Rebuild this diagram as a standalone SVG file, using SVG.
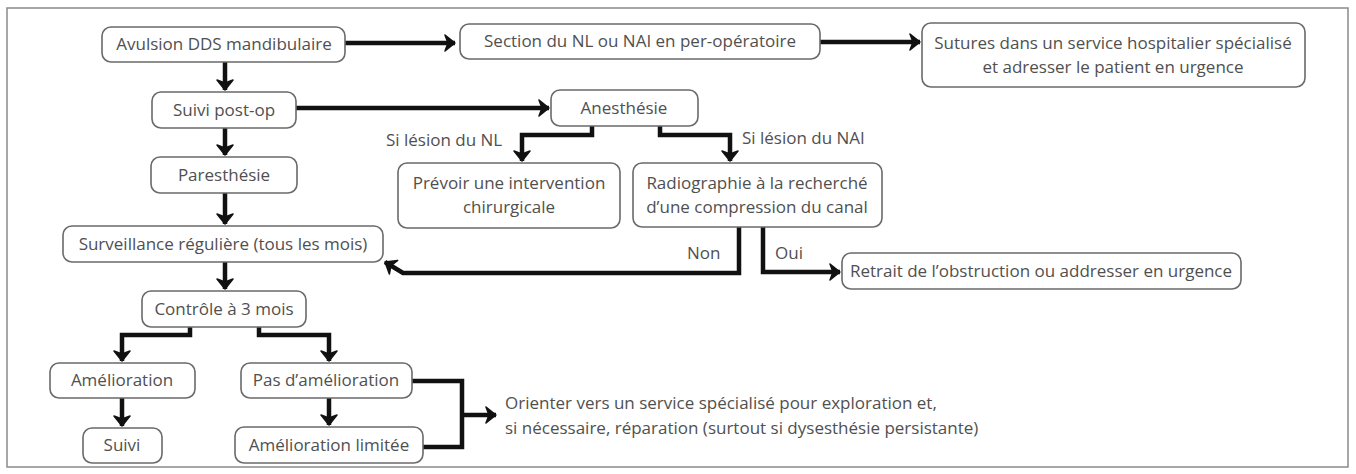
<svg xmlns="http://www.w3.org/2000/svg" width="1356" height="474" viewBox="0 0 1356 474">
<defs>
<style>
.box{fill:#fff;stroke:#6a6a6a;stroke-width:1.6}
.t{font-family:"Open Sans","Noto Sans","Liberation Sans",sans-serif;font-size:17px;fill:#505050;text-anchor:middle}
.l{font-family:"Open Sans","Noto Sans","Liberation Sans",sans-serif;font-size:17px;fill:#505050}
.c{fill:none;stroke:#111;stroke-width:4.5;stroke-linejoin:miter;marker-end:url(#ah)}
.cn{fill:none;stroke:#111;stroke-width:4.5;stroke-linejoin:miter}
</style>
<marker id="ah" markerUnits="userSpaceOnUse" markerWidth="20" markerHeight="20" refX="12" refY="10" orient="auto" viewBox="0 0 20 20">
<path d="M2,2 L12,10 L2,18 L5,10 Z" fill="#111" stroke="#111" stroke-width="1.5" stroke-linejoin="round"/>
</marker>
</defs>
<rect x="0" y="0" width="1356" height="474" fill="#fff"/>
<rect x="7" y="8" width="1341" height="459" fill="#fff" stroke="#8a8a8a" stroke-width="1.5"/>

<g id="connectors">
<path class="c" d="M345,43 H455"/>
<path class="c" d="M820,42 H920"/>
<path class="c" d="M225,62 V90"/>
<path class="c" d="M296,108 H549"/>
<path class="c" d="M225,128 V155"/>
<path class="c" d="M225,193 V224"/>
<path class="c" d="M592,126 V135 H522 V161"/>
<path class="c" d="M660,126 V135 H730 V161"/>
<path class="c" d="M739,227 V273 H403 L385,262"/>
<path class="c" d="M763,227 V272 H840"/>
<path class="c" d="M225,262 V289"/>
<path class="c" d="M190,327 V335 H122 V361"/>
<path class="c" d="M259,327 V335 H329 V361"/>
<path class="c" d="M122,398 V426"/>
<path class="c" d="M329,397 V425"/>
<path class="cn" d="M412,381 H462 V447 H423"/>
<path class="c" d="M462,415 H496"/>
</g>

<g id="n1"><rect class="box" x="102" y="27" width="243" height="35" rx="9"/><text class="t" x="224" y="50">Avulsion DDS mandibulaire</text></g>
<g id="n2"><rect class="box" x="460" y="24" width="360" height="35" rx="9"/><text class="t" x="640" y="47">Section du NL ou NAI en per-opératoire</text></g>
<g id="n3"><rect class="box" x="922" y="23" width="383" height="64" rx="9"/><text class="t" x="1113" y="49">Sutures dans un service hospitalier spécialisé</text><text class="t" x="1113" y="73">et adresser le patient en urgence</text></g>
<g id="n4"><rect class="box" x="152" y="92" width="144" height="36" rx="9"/><text class="t" x="224" y="116">Suivi post-op</text></g>
<g id="n5"><rect class="box" x="551" y="90" width="147" height="36" rx="9"/><text class="t" x="624" y="114">Anesthésie</text></g>
<g id="n6"><rect class="box" x="151" y="157" width="146" height="36" rx="9"/><text class="t" x="224" y="181">Paresthésie</text></g>
<g id="n7"><rect class="box" x="398" y="163" width="222" height="65" rx="9"/><text class="t" x="509" y="189">Prévoir une intervention</text><text class="t" x="509" y="213">chirurgicale</text></g>
<g id="n8"><rect class="box" x="633" y="163" width="249" height="64" rx="9"/><text class="t" x="757" y="189">Radiographie à la recherché</text><text class="t" x="757" y="213">d’une compression du canal</text></g>
<g id="n9"><rect class="box" x="63" y="226" width="320" height="36" rx="9"/><text class="t" x="223" y="250">Surveillance régulière (tous les mois)</text></g>
<g id="n10"><rect class="box" x="142" y="291" width="164" height="36" rx="9"/><text class="t" x="224" y="315">Contrôle à 3 mois</text></g>
<g id="n11"><rect class="box" x="50" y="363" width="145" height="35" rx="9"/><text class="t" x="122" y="386">Amélioration</text></g>
<g id="n12"><rect class="box" x="241" y="363" width="171" height="35" rx="9"/><text class="t" x="326" y="386">Pas d’amélioration</text></g>
<g id="n13"><rect class="box" x="83" y="428" width="79" height="35" rx="9"/><text class="t" x="122" y="451">Suivi</text></g>
<g id="n14"><rect class="box" x="235" y="427" width="188" height="36" rx="9"/><text class="t" x="329" y="451">Amélioration limitée</text></g>
<g id="n15"><rect class="box" x="842" y="253" width="399" height="36" rx="9"/><text class="t" x="1041" y="277">Retrait de l’obstruction ou addresser en urgence</text></g>

<g id="labels">
<text class="l" x="386" y="146">Si lésion du NL</text>
<text class="l" x="742" y="144">Si lésion du NAI</text>
<text class="l" x="687" y="259">Non</text>
<text class="l" x="775" y="259">Oui</text>
<text class="l" x="505" y="409">Orienter vers un service spécialisé pour exploration et,</text>
<text class="l" x="505" y="434">si nécessaire, réparation (surtout si dysesthésie persistante)</text>
</g>
</svg>
